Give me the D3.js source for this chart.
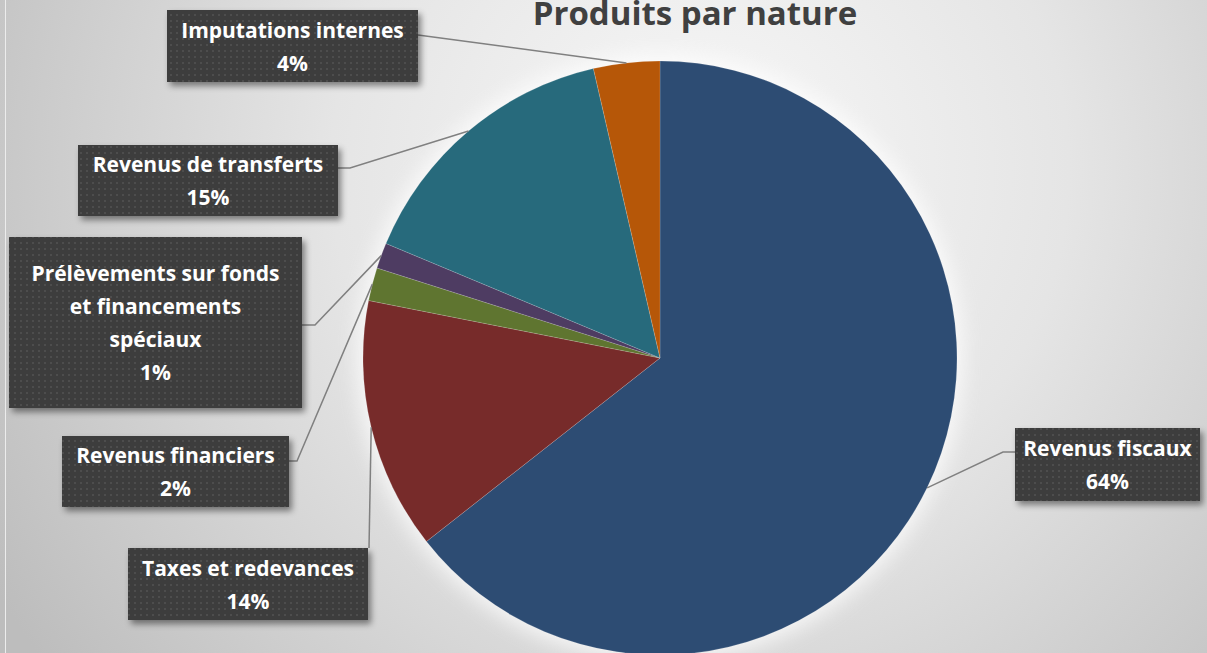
<!DOCTYPE html>
<html>
<head>
<meta charset="utf-8">
<script src="https://cdn.jsdelivr.net/npm/d3@7"></script>
<style>
  html, body { margin: 0; padding: 0; background: #cfcfcf; }
  svg { display: block; }
  text { font-family: "Open Sans", "Noto Sans", sans-serif; font-weight: bold; }
</style>
</head>
<body>
<div id="chart"></div>
<script>
// data
var categories = ["Revenus fiscaux", "Taxes et redevances", "Revenus financiers",
                  "Prélèvements sur fonds et financements spéciaux",
                  "Revenus de transferts", "Imputations internes"];
var values = [64.4, 13.7, 1.8, 1.4, 15.1, 3.6];
var colors = ["#2D4C73", "#772B2A", "#5F7530", "#4E3C62", "#276A7C", "#B65708"];
var labelLines = [["Revenus fiscaux"], ["Taxes et redevances"], ["Revenus financiers"],
                  ["Prélèvements sur fonds", "et financements", "spéciaux"],
                  ["Revenus de transferts"], ["Imputations internes"]];
var title = "Produits par nature";

// layout of the label boxes (x, y, w, h) and where the leader leaves them
var boxes = [
  {x: 1015, y: 428, w: 185, h: 73, side: "left",  dy: 24, elbow: 12},
  {x: 128,  y: 548, w: 240, h: 72, side: "top"},
  {x: 62,   y: 436, w: 227, h: 71, side: "right", dy: 25, elbow: 8},
  {x: 9,    y: 237, w: 293, h: 171, side: "right", dy: 88, elbow: 13},
  {x: 78,   y: 145, w: 260, h: 71, side: "right", dy: 23, elbow: 12},
  {x: 167,  y: 10,  w: 251, h: 72, side: "right", dy: 25, elbow: 0}
];

var W = 1207, H = 653;
var cx = 660, cy = 358, radius = 297;

var svg = d3.select("#chart").append("svg")
    .attr("width", W)
    .attr("height", H);

var defs = svg.append("defs");

var bg = defs.append("radialGradient")
    .attr("id", "bg")
    .attr("gradientUnits", "userSpaceOnUse")
    .attr("cx", 700).attr("cy", 170).attr("r", 820);
bg.append("stop").attr("offset", "0").attr("stop-color", "#f8f8f8");
bg.append("stop").attr("offset", "0.45").attr("stop-color", "#e5e5e5");
bg.append("stop").attr("offset", "1").attr("stop-color", "#bdbdbd");

var pat = defs.append("pattern")
    .attr("id", "dots")
    .attr("patternUnits", "userSpaceOnUse")
    .attr("width", 6).attr("height", 6);
pat.append("rect").attr("width", 6).attr("height", 6).attr("fill", "#3c3c3c");
pat.append("rect").attr("x", 2).attr("y", 2).attr("width", 2).attr("height", 2).attr("fill", "#4e4e4e");

var shadow = defs.append("filter").attr("id", "shadow")
    .attr("x", "-10%").attr("y", "-10%").attr("width", "130%").attr("height", "140%");
shadow.append("feDropShadow")
    .attr("dx", 3).attr("dy", 4).attr("stdDeviation", 3)
    .attr("flood-color", "#000").attr("flood-opacity", 0.45);

var glow = defs.append("filter").attr("id", "glow")
    .attr("x", "-20%").attr("y", "-20%").attr("width", "140%").attr("height", "140%");
glow.append("feGaussianBlur").attr("stdDeviation", 10);

// background
svg.append("rect")
    .attr("width", W).attr("height", H)
    .attr("fill", "url(#bg)");
svg.append("line")
    .attr("x1", 5.5).attr("x2", 5.5).attr("y1", 0).attr("y2", H)
    .attr("stroke", "#ececec").attr("stroke-width", 1);

// title
svg.append("text")
    .attr("x", 695).attr("y", 25)
    .attr("text-anchor", "middle")
    .attr("font-size", 33)
    .attr("fill", "#404040")
    .text(title);

// pie
var pie = d3.pie().sort(null).value(function(d) { return d; });
var arcs = pie(values);
var arc = d3.arc().innerRadius(0).outerRadius(radius);
var outer = d3.arc().innerRadius(radius).outerRadius(radius);

var g = svg.append("g").attr("transform", "translate(" + cx + "," + cy + ")");

g.append("circle")
    .attr("r", radius + 6)
    .attr("fill", "#ffffff")
    .attr("opacity", 0.75)
    .attr("filter", "url(#glow)");

g.selectAll("path.slice")
    .data(arcs)
    .enter().append("path")
    .attr("class", "slice")
    .attr("d", arc)
    .attr("fill", function(d, i) { return colors[i]; })
    .attr("stroke", "rgba(255,255,255,0.25)")
    .attr("stroke-width", 0.6);

// leader lines
var total = d3.sum(values);
svg.append("g").selectAll("polyline")
    .data(arcs)
    .enter().append("polyline")
    .attr("fill", "none")
    .attr("stroke", "#808080")
    .attr("stroke-width", 1.5)
    .attr("points", function(d, i) {
      var b = boxes[i];
      var p = outer.centroid(d);
      var end = [cx + p[0], cy + p[1]];
      var pts;
      if (b.side === "top") {
        pts = [[b.x + b.w + 1, b.y], end];
      } else if (b.side === "left") {
        pts = [[b.x, b.y + b.dy], [b.x - b.elbow, b.y + b.dy], end];
      } else {
        pts = [[b.x + b.w, b.y + b.dy], [b.x + b.w + b.elbow, b.y + b.dy], end];
      }
      return pts.map(function(q) { return q.join(","); }).join(" ");
    });

// label boxes
var labels = svg.append("g").selectAll("g")
    .data(arcs)
    .enter().append("g");

labels.append("rect")
    .attr("x", function(d, i) { return boxes[i].x; })
    .attr("y", function(d, i) { return boxes[i].y; })
    .attr("width", function(d, i) { return boxes[i].w; })
    .attr("height", function(d, i) { return boxes[i].h; })
    .attr("fill", "url(#dots)")
    .attr("filter", "url(#shadow)");

labels.each(function(d, i) {
  var b = boxes[i];
  var lines = labelLines[i].concat([Math.round(d.value / total * 100) + "%"]);
  var lh = 33;
  var mid = b.y + b.h / 2;
  d3.select(this).selectAll("text")
    .data(lines)
    .enter().append("text")
    .attr("x", b.x + b.w / 2)
    .attr("y", function(t, k) { return mid + (k - (lines.length - 1) / 2) * lh + 8; })
    .attr("text-anchor", "middle")
    .attr("font-size", 21)
    .attr("fill", "#ffffff")
    .text(function(t) { return t; });
});
</script>
</body>
</html>
